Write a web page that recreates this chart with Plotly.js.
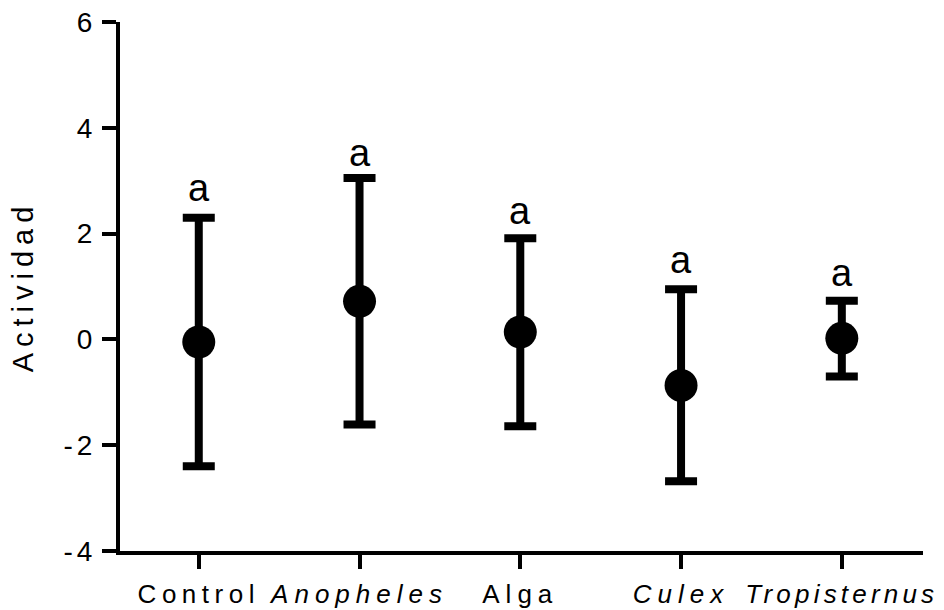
<!DOCTYPE html>
<html>
<head>
<meta charset="utf-8">
<script src="https://cdn.plot.ly/plotly-3.0.1.min.js"></script>
<style>html,body{margin:0;padding:0;background:#fff;}</style>
</head>
<body>
<div id="chart" style="width:944px;height:610px;"></div>
<script>
// Data
const categories = ['Control', 'Anopheles', 'Alga', 'Culex', 'Tropisternus'];
const italicCat = [false, true, false, true, true];
const means = [-0.05, 0.72, 0.14, -0.87, 0.02];
const upperEnds = [2.30, 3.05, 1.91, 0.95, 0.73];
const lowerEnds = [-2.40, -1.61, -1.64, -2.68, -0.70];
const letters = ['a', 'a', 'a', 'a', 'a'];
const letterY = [2.87, 3.53, 2.42, 1.50, 1.26];
const yTicks = [-4, -2, 0, 2, 4, 6];

const FONT = 'Liberation Sans, Arial, Helvetica, sans-serif';
const sp = (t, ls) => '<span style="letter-spacing:' + ls + 'px">' + t + '</span>';
const labelSpacing = [5.5, 6, 6, 6, 4.2];

const xIdx = categories.map((c, i) => i);
const errPlus = upperEnds.map((u, i) => u - means[i]);
const errMinus = lowerEnds.map((l, i) => means[i] - l);

const trace = {
  type: 'scatter',
  mode: 'markers',
  x: xIdx,
  y: means,
  marker: {color: '#000', size: 33, line: {width: 0}},
  error_y: {
    type: 'data', symmetric: false,
    array: errPlus, arrayminus: errMinus,
    color: '#000', thickness: 8, width: 16
  },
  hoverinfo: 'skip',
  showlegend: false
};

const tickText = categories.map((c, i) => italicCat[i] ? '<i>' + sp(c, labelSpacing[i]) + '</i>' : sp(c, labelSpacing[i]));

const annotations = letters.map((t, i) => ({
  x: xIdx[i], y: letterY[i], xref: 'x', yref: 'y',
  text: t, showarrow: false, xanchor: 'center', yanchor: 'middle',
  font: {family: FONT, size: 38, color: '#000'}
}));

const layout = {
  width: 944, height: 610,
  margin: {l: 120, r: 21, t: 22, b: 59},
  paper_bgcolor: '#fff', plot_bgcolor: '#fff',
  font: {family: FONT, color: '#000'},
  xaxis: {
    range: [-0.49, 4.505],
    tickmode: 'array', tickvals: xIdx, ticktext: tickText,
    showgrid: false, zeroline: false,
    showline: true, linecolor: '#000', linewidth: 4,
    ticks: 'outside', ticklen: 14, tickwidth: 4, tickcolor: '#000',
    ticklabeloverflow: 'allow', ticklabelstandoff: 3,
    tickfont: {family: FONT, size: 26, color: '#000'}
  },
  yaxis: {
    range: [-4, 6],
    tickmode: 'array', tickvals: yTicks, ticktext: yTicks.map(v => sp(String(v), 4)),
    showgrid: false, zeroline: false,
    showline: true, linecolor: '#000', linewidth: 4,
    ticks: 'outside', ticklen: 14, tickwidth: 4, tickcolor: '#000',
    tickfont: {family: FONT, size: 28, color: '#000'},
    title: {text: sp('Actividad', 6), font: {family: FONT, size: 29, color: '#000'}, standoff: 22}
  },
  annotations: annotations
};

Plotly.newPlot('chart', [trace], layout, {displayModeBar: false, staticPlot: true});
</script>
</body>
</html>
